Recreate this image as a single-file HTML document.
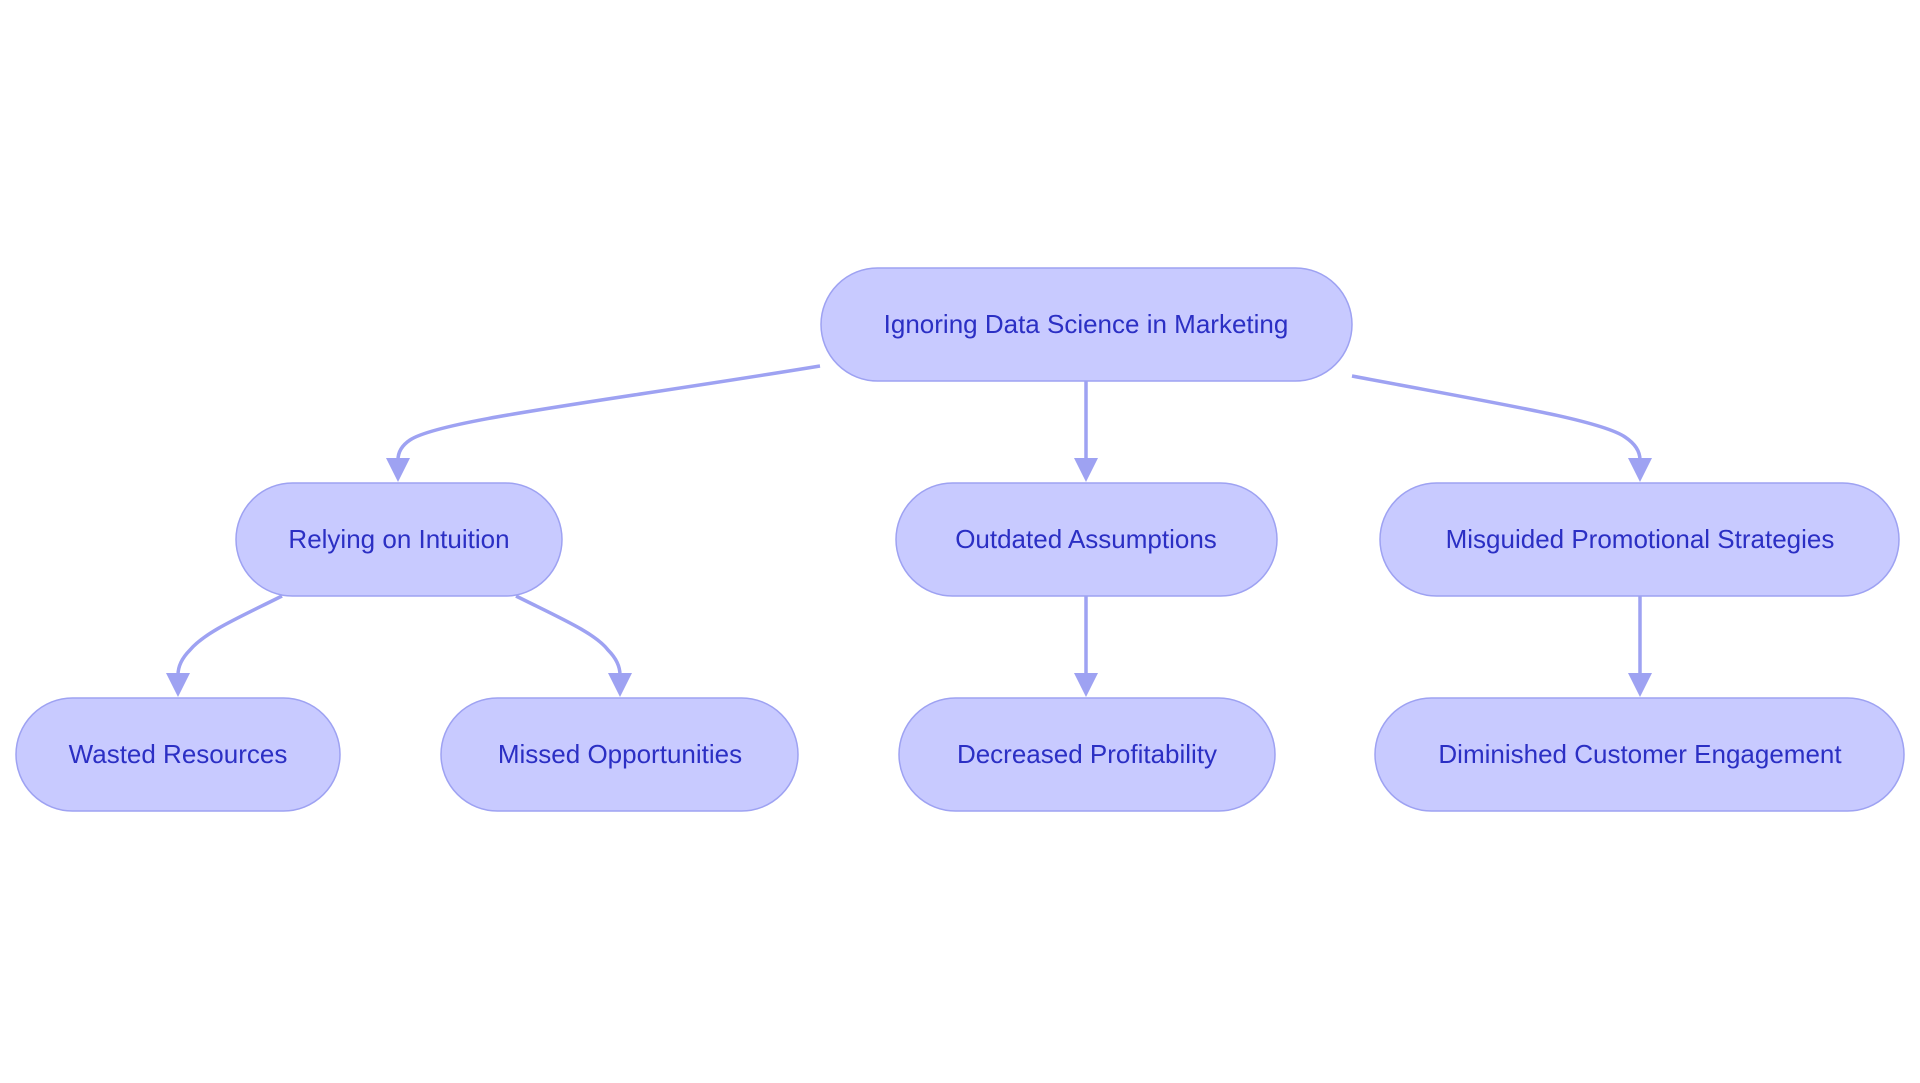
<!DOCTYPE html>
<html><head><meta charset="utf-8"><style>
html,body{margin:0;padding:0;background:#fff;}
body{width:1920px;height:1083px;overflow:hidden;position:relative;font-family:"Liberation Sans",sans-serif;}
svg{position:absolute;left:0;top:0;}
</style></head><body>
<svg width="1920" height="1083" viewBox="0 0 1920 1083">
<defs><marker id="a" markerWidth="8" markerHeight="8" refX="4" refY="4" orient="auto" markerUnits="userSpaceOnUse"></marker></defs>
<g fill="none" stroke="#9ea2f2" stroke-width="3.5">
<path d="M820,366 C600,402 440,420 410,440 Q398,448 398,460"/>
<path d="M1352,376 C1500,404 1600,420 1625,437 Q1640,447 1640,460"/>
<path d="M1086,381 L1086,460"/>
<path d="M282,596 C240,617 205,632 190,650 Q178,662 178,675"/>
<path d="M516,596 C560,618 595,633 608,650 Q620,662 620,675"/>
<path d="M1086,596 L1086,675"/>
<path d="M1640,596 L1640,675"/>
</g>
<g fill="#9ea2f2">
<polygon points="386,458 410,458 398,482"/>
<polygon points="1628,458 1652,458 1640,482"/>
<polygon points="1074,458 1098,458 1086,482"/>
<polygon points="166,673 190,673 178,697"/>
<polygon points="608,673 632,673 620,697"/>
<polygon points="1074,673 1098,673 1086,697"/>
<polygon points="1628,673 1652,673 1640,697"/>
</g>
<g fill="#c8caff" stroke="#9ea2f2" stroke-width="1.5">
<rect x="821" y="268" width="531" height="113" rx="56.5"/>
<rect x="236" y="483" width="326" height="113" rx="56.5"/>
<rect x="896" y="483" width="381" height="113" rx="56.5"/>
<rect x="1380" y="483" width="519" height="113" rx="56.5"/>
<rect x="16" y="698" width="324" height="113" rx="56.5"/>
<rect x="441" y="698" width="357" height="113" rx="56.5"/>
<rect x="899" y="698" width="376" height="113" rx="56.5"/>
<rect x="1375" y="698" width="529" height="113" rx="56.5"/>
</g>
<g fill="#2b2fc4" font-family="Liberation Sans, sans-serif" font-size="26" text-anchor="middle">
<text x="1086" y="333">Ignoring Data Science in Marketing</text>
<text x="399" y="548">Relying on Intuition</text>
<text x="1086" y="548">Outdated Assumptions</text>
<text x="1640" y="548">Misguided Promotional Strategies</text>
<text x="178" y="763">Wasted Resources</text>
<text x="620" y="763">Missed Opportunities</text>
<text x="1087" y="763">Decreased Profitability</text>
<text x="1640" y="763">Diminished Customer Engagement</text>
</g>
</svg>
</body></html>
